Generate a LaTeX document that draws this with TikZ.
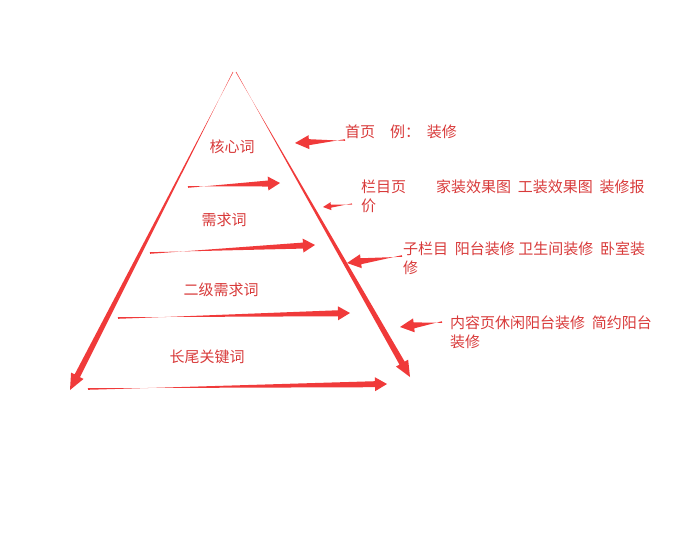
\documentclass[tikz,border=0pt]{standalone}
\usepackage{fontspec}
\newfontfamily\cjk{Noto Sans CJK SC}
\usetikzlibrary{calc}
\definecolor{ar}{HTML}{F03A3A}
\definecolor{tx}{HTML}{D83A3A}
\newcommand{\taper}[6]{%
 \fill[ar] ($(#1)!#3pt!90:(#2)$) -- ($($(#2)!#5pt!(#1)$)!#4pt!-90:(#2)$) -- ($($(#2)!#5pt!(#1)$)!#6pt!-90:(#2)$) -- (#2)
 -- ($($(#2)!#5pt!(#1)$)!#6pt!90:(#2)$) -- ($($(#2)!#5pt!(#1)$)!#4pt!90:(#2)$) -- ($(#1)!#3pt!-90:(#2)$) -- cycle;}
\begin{document}
\begin{tikzpicture}[x=1pt,y=-1pt,
 lab/.style={text=tx,font=\cjk\fontsize{15}{19}\selectfont,inner sep=0pt},
 rlab/.style={lab,anchor=north west,align=left}]
\useasboundingbox (0,0) rectangle (681,558);
\coordinate (lt) at (233,72); \coordinate (lb) at (70,390);
\coordinate (rt) at (236,72); \coordinate (rb) at (410,377);
\coordinate (h1a) at (188,187); \coordinate (h1b) at (280,183);
\coordinate (h2a) at (150,253); \coordinate (h2b) at (315,245);
\coordinate (h3a) at (118,318); \coordinate (h3b) at (350,313);
\coordinate (h4a) at (88,389); \coordinate (h4b) at (387,384);
\coordinate (p1a) at (345,140); \coordinate (p1b) at (295,143);
\coordinate (p2a) at (352,204); \coordinate (p2b) at (323,207);
\coordinate (p3a) at (402,256); \coordinate (p3b) at (347,263);
\coordinate (p4a) at (442,322); \coordinate (p4b) at (400,327);
\taper{lt}{lb}{0.3}{3}{16}{7}
\taper{rt}{rb}{0.3}{3}{16}{7}
\taper{h1a}{h1b}{0.8}{3}{12}{7}
\taper{h2a}{h2b}{0.8}{3}{12}{7}
\taper{h3a}{h3b}{0.8}{3}{12}{7}
\taper{h4a}{h4b}{0.8}{3}{12}{7}
\taper{p1a}{p1b}{0.8}{3}{14}{7}
\taper{p2a}{p2b}{0.6}{1.5}{8}{4}
\taper{p3a}{p3b}{0.8}{3}{14}{7}
\taper{p4a}{p4b}{0.8}{3}{14}{7}
\node[lab] (n1) at (232,147) {核心词};
\node[lab] (n2) at (224,220) {需求词};
\node[lab] (n3) at (221,290) {二级需求词};
\node[lab] (n4) at (207,357) {长尾关键词};
\node[rlab] (t1) at (345,125) {首页\quad 例：\ \ 装修};
\node[rlab] (t2) at (361,180) {栏目页\qquad 家装效果图\ \ 工装效果图\ \ 装修报\\价};
\node[rlab] (t3) at (403,242) {子栏目\ \ 阳台装修\ 卫生间装修\ \ 卧室装\\修};
\node[rlab] (t4) at (450,316) {内容页休闲阳台装修\ \ 简约阳台\\装修};
\end{tikzpicture}
\end{document}
